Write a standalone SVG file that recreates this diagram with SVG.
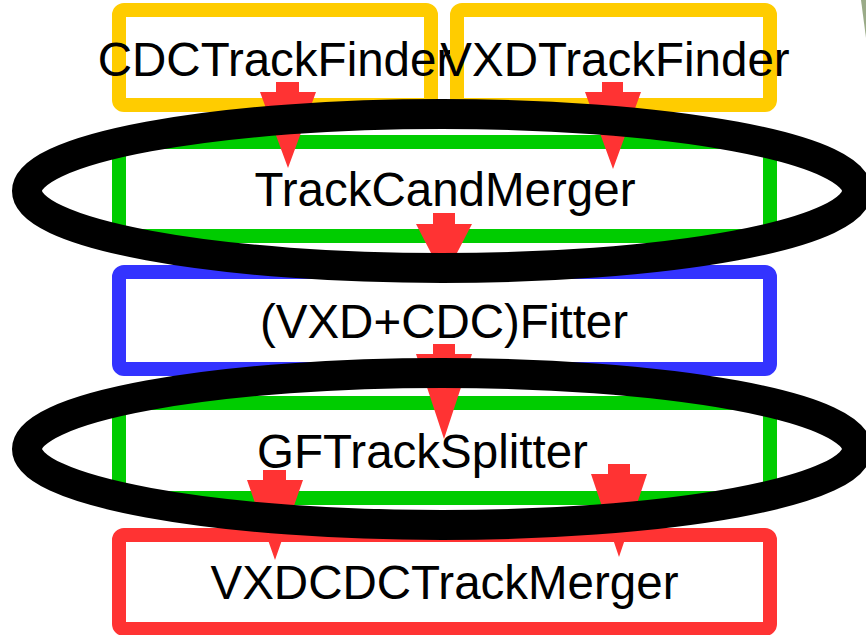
<svg xmlns="http://www.w3.org/2000/svg" width="866" height="635" viewBox="0 0 866 635">
<style>
.box{fill:#ffffff;stroke-width:14}
.lbl{font-family:"Liberation Sans",Arial,sans-serif;font-size:47.5px;fill:#000000;text-anchor:middle}
.arr{fill:#ff3333;stroke:none}
.ell{fill:none;stroke:#000000;stroke-width:30}
</style>
<rect width="866" height="635" fill="#ffffff"/>
<g id="nodes">
<g id="CDCTrackFinder"><rect class="box" x="119" y="10" width="312" height="95" rx="5" stroke="#ffcc00"/><text class="lbl" x="275" y="76">CDCTrackFinder</text></g>
<g id="VXDTrackFinder"><rect class="box" x="457" y="10" width="313" height="95" rx="5" stroke="#ffcc00"/><text class="lbl" x="615" y="76">VXDTrackFinder</text></g>
<g id="TrackCandMerger"><rect class="box" x="119" y="142" width="651" height="94" rx="5" stroke="#00cc00"/><text class="lbl" x="445" y="206">TrackCandMerger</text></g>
<g id="Fitter"><rect class="box" x="119" y="272" width="651" height="97" rx="5" stroke="#3333ff"/><text class="lbl" x="444" y="338">(VXD+CDC)Fitter</text></g>
<g id="GFTrackSplitter"><rect class="box" x="119" y="403" width="651" height="95" rx="5" stroke="#00cc00"/><text class="lbl" x="422.5" y="468">GFTrackSplitter</text></g>
<g id="VXDCDCTrackMerger"><rect class="box" x="119" y="535" width="651" height="94" rx="5" stroke="#ff3333"/><text class="lbl" x="444.5" y="599">VXDCDCTrackMerger</text></g>
</g>
<g id="connectors">
<polygon class="arr" points="276,82 299,82 299,92 316,92 288,168 260,92 276,92"/>
<polygon class="arr" points="602,82 623,82 623,92 641,92 613,169 585,92 602,92"/>
<polygon class="arr" points="433,213 455,213 455,224 472,224 444,278 416,224 433,224"/>
<polygon class="arr" points="433,344 455,344 455,354 472,354 444,439 416,354 433,354"/>
<polygon class="arr" points="263,470 286,470 286,480 303,480 275,560 247,480 263,480"/>
<polygon class="arr" points="608,464 630,464 630,474 647,474 619,557 591,474 608,474"/>
</g>
<g id="ellipses">
<ellipse class="ell" cx="442" cy="191" rx="415" ry="77"/>
<ellipse class="ell" cx="442" cy="449" rx="415" ry="76"/>
</g>
<polygon points="861,0 866,0 866,38" fill="#9aab88"/>
</svg>
